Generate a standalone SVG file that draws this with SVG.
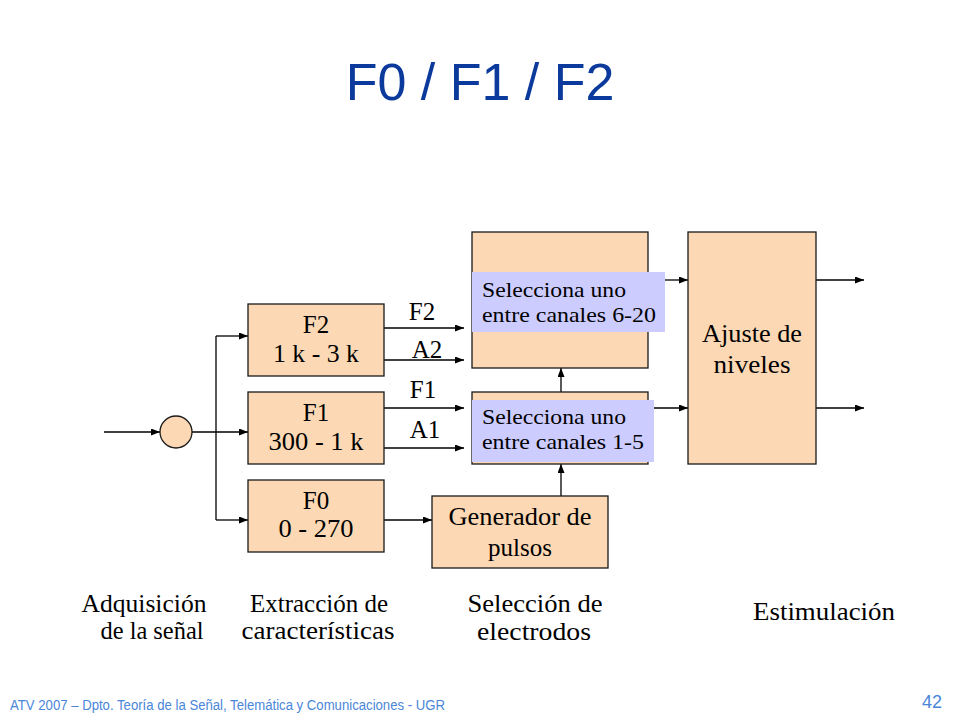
<svg xmlns="http://www.w3.org/2000/svg" width="960" height="720" viewBox="0 0 960 720">
<style>
.box{fill:#FCD9B4;stroke:#1a1a1a;stroke-width:1.3}
.sel{fill:#CCCCFF;stroke:none}
.t{font-family:"Liberation Serif","Times New Roman",serif;font-size:25px;fill:#000;text-anchor:middle}
.s{font-family:"Liberation Serif","Times New Roman",serif;font-size:22px;fill:#000}
.c{stroke:#000;stroke-width:1.3;fill:none}
.ca{stroke:#000;stroke-width:1.3;fill:none;marker-end:url(#ah)}
</style>
<defs>
<marker id="ah" markerUnits="userSpaceOnUse" markerWidth="10" markerHeight="8" refX="9" refY="3.5" orient="auto">
<path d="M0,0 L9,3.5 L0,7 z" fill="#000"/>
</marker>
</defs>
<rect width="960" height="720" fill="#fff"/>
<text x="480" y="100" font-family="Liberation Sans, Arial, sans-serif" font-size="52" fill="#0B3A9C" text-anchor="middle">F0 / F1 / F2</text>

<g id="connectors">
<line class="ca" x1="104" y1="432" x2="160" y2="432"/>
<line class="ca" x1="192" y1="432" x2="248" y2="432"/>
<line class="c" x1="216" y1="336" x2="216" y2="520"/>
<line class="ca" x1="216" y1="336" x2="248" y2="336"/>
<line class="ca" x1="216" y1="520" x2="248" y2="520"/>
<line class="ca" x1="384" y1="328" x2="464" y2="328"/>
<line class="ca" x1="384" y1="360" x2="464" y2="360"/>
<line class="ca" x1="384" y1="408" x2="464" y2="408"/>
<line class="ca" x1="384" y1="448" x2="464" y2="448"/>
<line class="ca" x1="384" y1="520" x2="432" y2="520"/>
<line class="ca" x1="561" y1="392" x2="561" y2="368"/>
<line class="ca" x1="561" y1="496" x2="561" y2="464"/>
<line class="ca" x1="665" y1="280" x2="688" y2="280"/>
<line class="ca" x1="654" y1="408" x2="688" y2="408"/>
<line class="ca" x1="816" y1="280" x2="864" y2="280"/>
<line class="ca" x1="816" y1="408" x2="864" y2="408"/>
<text class="t" x="422" y="320">F2</text>
<text class="t" x="427" y="358">A2</text>
<text class="t" x="423" y="398">F1</text>
<text class="t" x="425" y="438">A1</text>
</g>

<g id="input">
<circle cx="176" cy="432" r="16" class="box"/>
</g>

<g id="f2">
<rect class="box" x="248" y="304" width="136" height="72"/>
<text class="t" x="316" y="333">F2</text>
<text class="t" x="316" y="362" textLength="86" lengthAdjust="spacingAndGlyphs">1 k - 3 k</text>
</g>
<g id="f1">
<rect class="box" x="248" y="392" width="136" height="72"/>
<text class="t" x="316" y="421">F1</text>
<text class="t" x="316" y="450" textLength="95" lengthAdjust="spacingAndGlyphs">300 - 1 k</text>
</g>
<g id="f0">
<rect class="box" x="248" y="480" width="136" height="72"/>
<text class="t" x="316" y="509">F0</text>
<text class="t" x="316" y="537" textLength="75" lengthAdjust="spacingAndGlyphs">0 - 270</text>
</g>

<g id="sel620">
<rect class="box" x="472" y="232" width="176" height="136"/>
<rect class="sel" x="472" y="272" width="193" height="60"/>
<text class="s" x="482" y="297" textLength="144" lengthAdjust="spacingAndGlyphs">Selecciona uno</text>
<text class="s" x="482" y="322" textLength="174" lengthAdjust="spacingAndGlyphs">entre canales 6-20</text>
</g>
<g id="sel15">
<rect class="box" x="472" y="392" width="176" height="72"/>
<rect class="sel" x="472" y="400" width="182" height="62"/>
<text class="s" x="482" y="424" textLength="144" lengthAdjust="spacingAndGlyphs">Selecciona uno</text>
<text class="s" x="482" y="449" textLength="162" lengthAdjust="spacingAndGlyphs">entre canales 1-5</text>
</g>
<g id="generador">
<rect class="box" x="432" y="496" width="176" height="72"/>
<text class="t" x="520" y="525" textLength="143" lengthAdjust="spacingAndGlyphs">Generador de</text>
<text class="t" x="520" y="556">pulsos</text>
</g>
<g id="ajuste">
<rect class="box" x="688" y="232" width="128" height="232"/>
<text class="t" x="752" y="342" textLength="100" lengthAdjust="spacingAndGlyphs">Ajuste de</text>
<text class="t" x="752" y="373" textLength="77" lengthAdjust="spacingAndGlyphs">niveles</text>
</g>

<g id="labels">
<text class="t" x="144" y="612" textLength="125" lengthAdjust="spacingAndGlyphs">Adquisición</text>
<text class="t" x="152" y="639" textLength="103" lengthAdjust="spacingAndGlyphs">de la señal</text>
<text class="t" x="319" y="612" textLength="138" lengthAdjust="spacingAndGlyphs">Extracción de</text>
<text class="t" x="318" y="639" textLength="153" lengthAdjust="spacingAndGlyphs">características</text>
<text class="t" x="535" y="612" textLength="135" lengthAdjust="spacingAndGlyphs">Selección de</text>
<text class="t" x="534" y="640" textLength="114" lengthAdjust="spacingAndGlyphs">electrodos</text>
<text class="t" x="824" y="620" textLength="142" lengthAdjust="spacingAndGlyphs">Estimulación</text>
</g>

<g id="footer">
<text x="10" y="710" font-family="Liberation Sans, Arial, sans-serif" font-size="14" fill="#4A86D8" textLength="435" lengthAdjust="spacingAndGlyphs">ATV 2007 – Dpto. Teoría de la Señal, Telemática y Comunicaciones - UGR</text>
<text x="922" y="708" font-family="Liberation Sans, Arial, sans-serif" font-size="18" fill="#4A86D8">42</text>
</g>
</svg>
